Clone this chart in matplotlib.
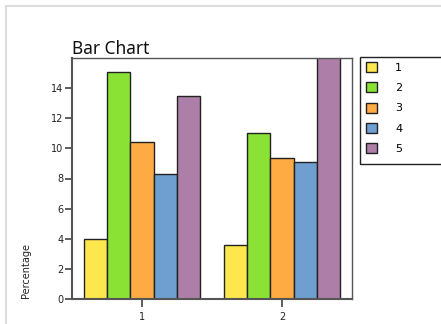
import matplotlib
matplotlib.use("Agg")
import matplotlib.pyplot as plt
from matplotlib.patches import Rectangle, Patch
import numpy as np

categories = ["1", "2"]
series_names = ["1", "2", "3", "4", "5"]
series_1 = [4.0, 3.6]
series_2 = [15.1, 11.0]
series_3 = [10.4, 9.35]
series_4 = [8.3, 9.1]
series_5 = [13.5, 16.5]
colors = ["#fde74c", "#8ae234", "#fdab42", "#6f9fd0", "#ad7fa8"]

values = [series_1, series_2, series_3, series_4, series_5]

W, H = 441, 324
fig = plt.figure(figsize=(W / 100, H / 100), dpi=100)

# light grey outer frame
fig.patches.append(Rectangle((6 / W, -0.1), 1.2, 1 - 6 / H + 0.1, transform=fig.transFigure,
                             fill=False, edgecolor="#dcdcdc", lw=1.5))

ax = fig.add_axes([72 / W, 1 - 299 / H, 280 / W, 241 / H])

x = np.arange(1, len(categories) + 1)
bw = 1 / 6
for i, (vals, c) in enumerate(zip(values, colors)):
    ax.bar(x + (i - 2) * bw, vals, bw, color=c, edgecolor="#222222", lw=1.0,
           label=series_names[i])

ax.set_xlim(0.5, 2.5)
ax.set_ylim(0, 16)
ax.set_xticks(x)
ax.set_xticklabels(categories)
ax.set_yticks(range(0, 15, 2))
ax.tick_params(axis="both", labelsize=7, colors="#444444", labelcolor="#222222",
               length=5, width=1.2)
ax.tick_params(axis="x", length=6, pad=3)
ax.tick_params(axis="y", pad=1)
for s in ax.spines.values():
    s.set_color("#555555")
    s.set_linewidth(1.0)
ax.spines["left"].set_linewidth(1.5)
ax.spines["bottom"].set_linewidth(1.5)

ax.set_title("Bar Chart", loc="left", fontsize=12.5, family="Noto Sans", pad=3, color="#111111")
fig.text(26 / W, 1 - 270 / H, "Percentage", rotation=90, ha="center", va="center",
         fontsize=7, color="#222222")

# legend box
fig.patches.append(Rectangle((360 / W, 1 - 164 / H), 100 / W, 107 / H, transform=fig.transFigure,
                             fill=False, edgecolor="#222222", lw=1.0))
handles = [Patch(facecolor=c, edgecolor="#222222", lw=1.0) for c in colors]
fig.legend(handles, series_names, loc="upper left", bbox_to_anchor=(364 / W, 1 - 60 / H),
           frameon=False, fontsize=8, handlelength=1.0, handleheight=1.0,
           labelspacing=0.85, handletextpad=1.6, borderaxespad=0, borderpad=0.2)

fig.savefig("out.png", dpi=100)
